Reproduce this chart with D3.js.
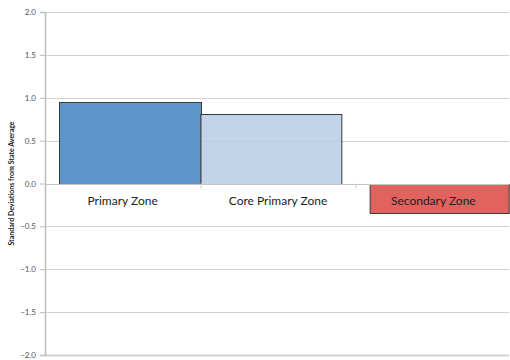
<!DOCTYPE html>
<html lang="en">
    <head>
        <meta charset="UTF-8" />
        <title>Standard Deviations from State Average</title>
        <script src="https://d3js.org/d3.v7.min.js"></script>
        <style>
            body { margin: 0; background: #fff; }
        </style>
    </head>
    <body>
        <svg width="510" height="360"></svg>

        <script>
            // data
            const zones = ["Primary Zone", "Core Primary Zone", "Secondary Zone"];
            const values = [0.95, 0.81, -0.34];
            const colors = ["#5e95cb", "#b7cce5", "#e0635e"];
            const yTicks = [2.0, 1.5, 1.0, 0.5, 0.0, -0.5, -1.0, -1.5, -2.0];

            const svg = d3.select("svg");
            const left = 45;
            const right = 511;

            const x = d3.scaleBand().domain(zones).range([left, right]).padding(0);
            const y = d3.scaleLinear().domain([-2, 2]).range([355, 12]);

            // gridlines
            svg.append("g")
                .selectAll("line")
                .data(yTicks)
                .join("line")
                .attr("x1", left)
                .attr("x2", 509)
                .attr("y1", (d) => Math.round(y(d)) + 0.5)
                .attr("y2", (d) => Math.round(y(d)) + 0.5)
                .attr("stroke", "#d2d2d2")
                .attr("stroke-width", (d) => (d === -2 ? 2 : 1.2));

            // bars (Excel-ish offsets inside each band)
            const inset = [14, 0, 14];
            const barW = [142, 141, 139];
            svg.append("g")
                .selectAll("rect")
                .data(zones)
                .join("rect")
                .attr("x", (d, i) => x(d) + inset[i] + 0.5)
                .attr("width", (d, i) => barW[i])
                .attr("y", (d, i) => Math.round(y(Math.max(0, values[i]))) + 0.5)
                .attr("height", (d, i) => Math.abs(Math.round(y(values[i])) - Math.round(y(0))))
                .attr("fill", (d, i) => colors[i])
                .attr("fill-opacity", (d, i) => (i === 1 ? 0.85 : 1))
                .attr("stroke", "#3a3a3a")
                .attr("stroke-width", 1);

            // zero line
            svg.append("line")
                .attr("x1", left)
                .attr("x2", 509)
                .attr("y1", Math.round(y(0)) + 0.5)
                .attr("y2", Math.round(y(0)) + 0.5)
                .attr("stroke", "#c4c4c4")
                .attr("stroke-width", 1.2);

            // category ticks
            svg.append("g")
                .selectAll("line")
                .data(zones.slice(1))
                .join("line")
                .attr("x1", (d) => x(d) + 0.5)
                .attr("x2", (d) => x(d) + 0.5)
                .attr("y1", y(0))
                .attr("y2", y(0) + 5)
                .attr("stroke", "#cccccc");

            // y axis
            const yAxis = svg.append("g")
                .attr("transform", `translate(${left},0)`)
                .call(d3.axisLeft(y).tickValues(yTicks).tickFormat(d3.format(".1f")).tickSize(5).tickPadding(4));
            yAxis.select(".domain").attr("stroke", "#bdbdbd").attr("stroke-width", 1.5);
            yAxis.selectAll(".tick line").attr("stroke", "#bdbdbd");
            yAxis.selectAll("text")
                .style("font-family", "Lato, 'Open Sans', sans-serif")
                .style("font-size", "8px")
                .attr("fill", "#555");

            // category labels
            svg.append("g")
                .selectAll("text")
                .data(zones)
                .join("text")
                .attr("x", (d) => x(d) + x.bandwidth() / 2)
                .attr("y", 205)
                .attr("text-anchor", "middle")
                .style("font-family", "Lato, 'Open Sans', sans-serif")
                .style("font-size", "12px")
                .attr("fill", "#222")
                .text((d) => d);

            // y title
            svg.append("text")
                .attr("transform", `translate(14,${y(0)}) rotate(-90)`)
                .attr("text-anchor", "middle")
                .style("font-family", "Lato, 'Open Sans', sans-serif")
                .style("font-size", "7px")
                .style("font-weight", "bold")
                .attr("fill", "#222")
                .text("Standard Deviations from State Average");
        </script>
    </body>
</html>
